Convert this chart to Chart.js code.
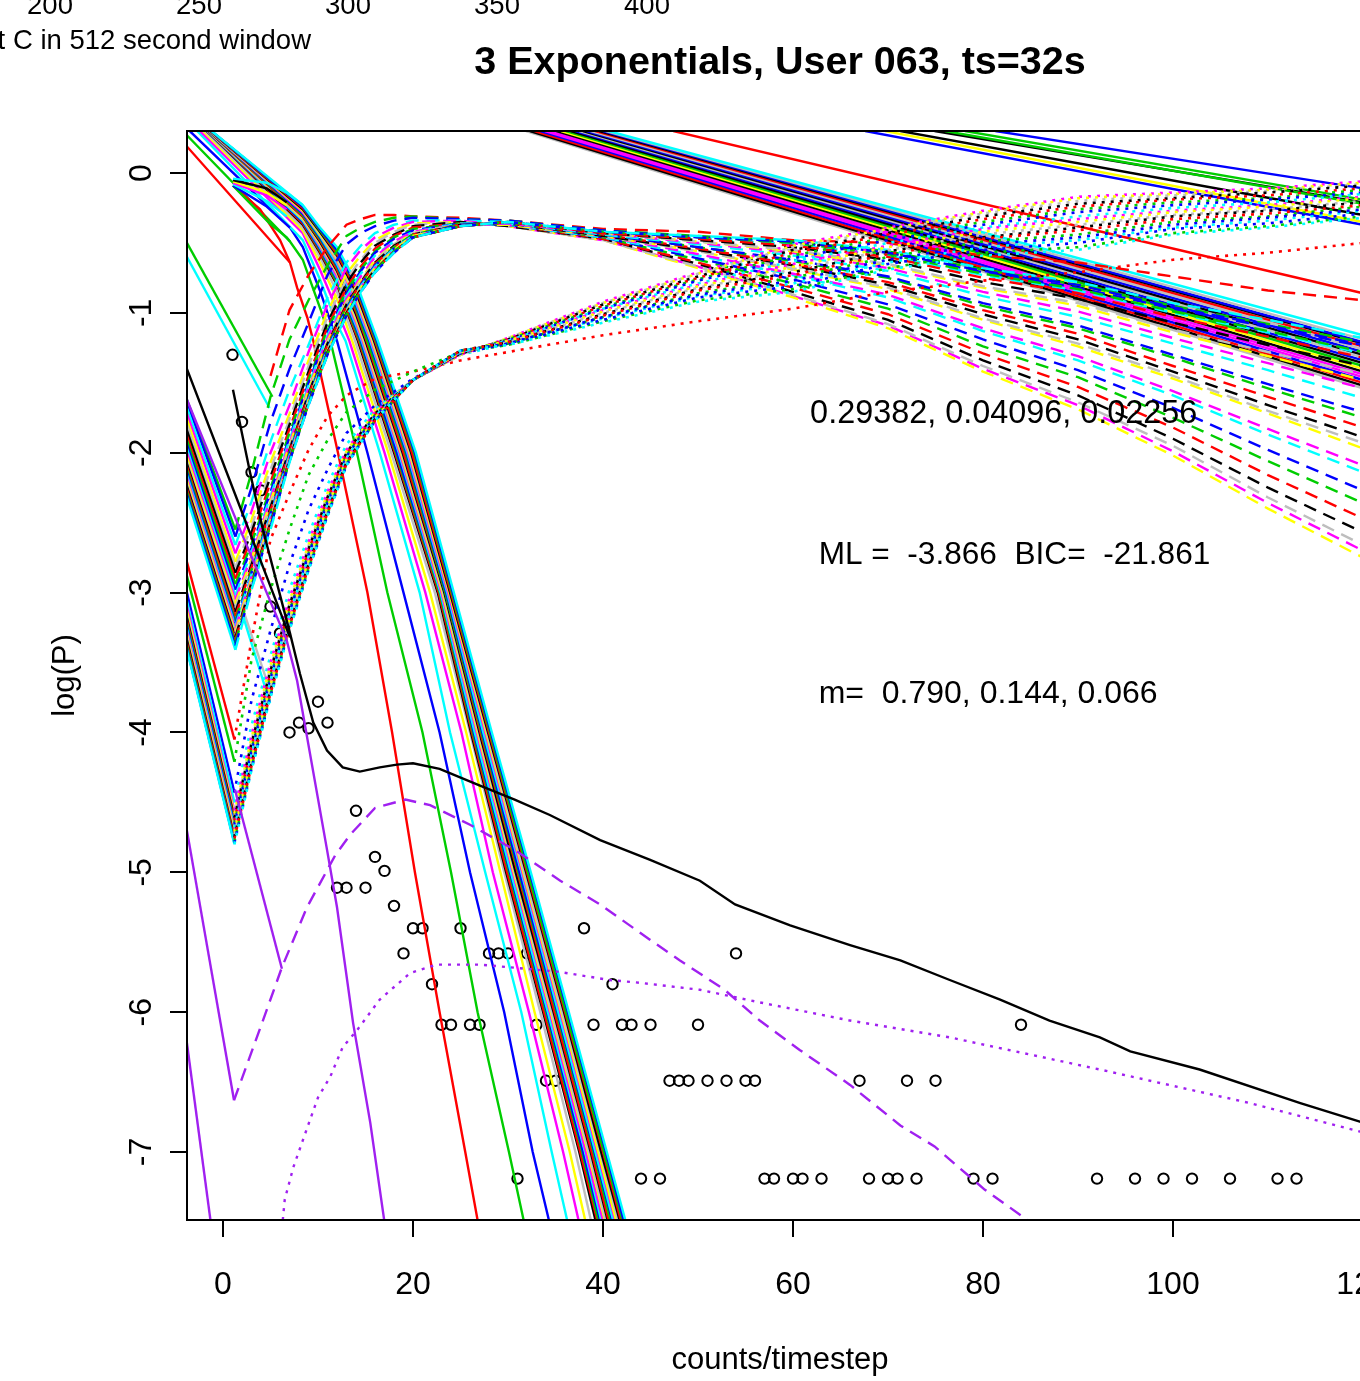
<!DOCTYPE html>
<html>
<head>
<meta charset="utf-8">
<title>3 Exponentials</title>
<script src="https://cdn.jsdelivr.net/npm/chart.js@4/dist/chart.umd.min.js"></script>
<style>
html, body { margin: 0; padding: 0; background: #fff; overflow: hidden; width: 1360px; height: 1381px; }
canvas { display: block; }
</style>
</head>
<body>
<canvas id="chart" width="1400" height="1381"></canvas>
<script>
// observed points
var obsX = [1,2,3,4,5,6,7,8,9,10,11,12,13,14,15,16,17,18,19,20,21,22,23,24,25,26,27,28,29,30,31,32,33,34,35,38,39,41,42,43,44,45,46,47,48,49,50,51,53,54,55,56,57,58,60,61,63,67,68,70,71,72,73,75,79,81,84,92,96,99,102,106,111,113];
var obsY = [-1.30,-1.78,-2.14,-2.27,-3.10,-3.29,-4.00,-3.93,-3.97,-3.78,-3.93,-5.11,-5.11,-4.56,-5.11,-4.89,-4.99,-5.24,-5.58,-5.40,-5.40,-5.80,-6.09,-6.09,-5.40,-6.09,-6.09,-5.58,-5.58,-5.58,-7.19,-5.58,-6.09,-6.49,-6.49,-5.40,-6.09,-5.80,-6.09,-6.09,-7.19,-6.09,-7.19,-6.49,-6.49,-6.49,-6.09,-6.49,-6.49,-5.58,-6.49,-6.49,-7.19,-7.19,-7.19,-7.19,-7.19,-6.49,-7.19,-7.19,-7.19,-6.49,-7.19,-6.49,-7.19,-7.19,-6.09,-7.19,-7.19,-7.19,-7.19,-7.19,-7.19,-7.19];

// best fit, black solid
var fitX = [1.05,2.84,4.2,7.05,8.1,9.5,10.95,12.6,14.4,16.5,18.3,20,22.8,27.05,30.7,34.4,39.7,44.9,50.2,53.9,59.7,66,71.3,76.5,81.8,87,92.3,95.5,102.8,113.4,120];
var fitY = [-1.55,-2.14,-2.55,-3.29,-3.58,-3.93,-4.13,-4.25,-4.28,-4.25,-4.23,-4.22,-4.26,-4.38,-4.48,-4.59,-4.77,-4.91,-5.06,-5.23,-5.38,-5.52,-5.63,-5.77,-5.91,-6.06,-6.18,-6.28,-6.41,-6.65,-6.79];
var fitLeftX = [-3.8,1.8,7.05];
var fitLeftY = [-1.4,-2.39,-3.32];

// purple components
var purpleMainX = [-3.8,1.8,6.7,7.8,10.9,12,13.7,15.5,17.1];
var purpleMainY = [-1.62,-2.55,-3.34,-3.63,-4.82,-5.25,-6.08,-6.79,-7.55];
var purpleSecondX = [-3.8,1.16];
var purpleSecondY = [-4.70,-6.63];
var purpleThirdX = [1.26,6.2];
var purpleThirdY = [-4.41,-5.69];
var purpleFourthX = [-3.8,-1.1];
var purpleFourthY = [-6.22,-7.6];
var purpleDashX = [1.16,4.2,6.2,8.84,11.8,13.4,16,19.2,21.8,26,30.7,35.5,39.7,44.9,48.1,52.8,56.5,60.7,66,71.3,74.9,80.2,86];
var purpleDashY = [-6.63,-6.06,-5.68,-5.25,-4.88,-4.73,-4.54,-4.48,-4.52,-4.66,-4.84,-5.06,-5.23,-5.48,-5.63,-5.84,-6.06,-6.27,-6.52,-6.81,-6.96,-7.27,-7.55];
var purpleDotX = [6.2,6.5,7.4,8.9,10,11.3,12.6,14.1,16.5,19.7,22.5,27.05,35.2,40.7,43.9,50.2,56.5,66,76.5,92.3,108.1,120];
var purpleDotY = [-7.55,-7.34,-7.11,-6.82,-6.61,-6.46,-6.25,-6.13,-5.91,-5.72,-5.66,-5.66,-5.71,-5.77,-5.79,-5.84,-5.93,-6.06,-6.18,-6.41,-6.65,-6.86];

// steep solid curves: top part per curve, then x read at fixed log(P) levels
var steepHeadX = [
    [-3.8,7.05,7.8,8.9],[-3.8,7.05,8.4,10.5],[-3.5,7.05,8.4,10.2,11],[-2.7,8.4,10.2,12],[-2.4,8.4,10.2,12],[-2.1,8.4,10.2,12],[-1.9,8.4,10.2,12],[-1.7,8.4,10.2,12],
    [-1.68,8.4,10.2,12,14],[-1.66,8.4,10.2,12,14],[-1.63,8.4,10.2,12,14],[-1.6,8.4,10.2,12,14],[-1.58,8.4,10.2,12,14],[-1.55,8.4,10.2,12,14],[-1.53,8.4,10.2,12,14],[-1.5,8.4,10.2,12,14],
    [-1.48,8.4,10.2,12,14],[-1.45,8.4,10.2,12,14],[-1.42,8.4,10.2,12,14],[-1.4,8.4,10.2,12,14],[-1.38,8.4,10.2,12,14],[-1.35,8.4,10.2,12,14],[-1.33,8.4,10.2,12,14],[-1.3,8.4,10.2,12,14],
    [-1.28,8.4,10.2,12,14],[-1.25,8.4,10.2,12,14],[-1.22,8.4,10.2,12,14],[-1.2,8.4,10.2,12,14]
];
var steepHeadY = [
    [0.19,-0.64,-0.82,-1.04],[0.27,-0.49,-0.62,-1.02],[0.3,-0.39,-0.53,-0.84,-1],[0.3,-0.48,-0.76,-1.08],[0.3,-0.43,-0.69,-0.98],[0.3,-0.41,-0.64,-0.9],[0.3,-0.39,-0.6,-0.85],[0.3,-0.37,-0.57,-0.8],
    [0.3,-0.36,-0.56,-0.79,-1.15],[0.3,-0.35,-0.55,-0.78,-1.13],[0.3,-0.35,-0.54,-0.76,-1.11],[0.3,-0.34,-0.53,-0.75,-1.09],[0.3,-0.33,-0.52,-0.74,-1.07],[0.3,-0.33,-0.51,-0.72,-1.05],[0.3,-0.32,-0.5,-0.71,-1.03],[0.3,-0.31,-0.49,-0.7,-1.01],
    [0.3,-0.31,-0.48,-0.69,-0.99],[0.3,-0.3,-0.47,-0.67,-0.97],[0.3,-0.29,-0.46,-0.66,-0.95],[0.3,-0.28,-0.45,-0.65,-0.93],[0.3,-0.28,-0.44,-0.63,-0.91],[0.3,-0.27,-0.44,-0.62,-0.89],[0.3,-0.26,-0.43,-0.61,-0.87],[0.3,-0.26,-0.42,-0.59,-0.85],
    [0.3,-0.25,-0.41,-0.58,-0.83],[0.3,-0.24,-0.41,-0.56,-0.81],[0.3,-0.24,-0.4,-0.55,-0.8],[0.3,-0.23,-0.39,-0.53,-0.78]
];
var steepLevels = [-1.2,-2,-3,-4,-5,-6,-7,-7.6];
var steepX = [
    [9.5,12.1,15.2,17.8,20.2,22.8,25.5,27.1],
    [11.3,14.1,17.3,21,24,26.8,30.1,32],
    [12,15.2,19,22.8,26,29.6,32.6,34.7],
    [12.9,16.5,20.7,23.9,27.6,31.4,34.6,36.6],
    [13.3,17,21.3,25.1,28.4,32.2,35.8,37.8],
    [13.6,17.4,21.8,25.6,29.2,32.8,36.5,38.5],
    [13.9,17.7,22.3,26,29.6,33.4,37.1,39.1],
    [14.2,18,22.6,26.1,29.8,33.7,37.5,39.6],
    [14.3,18.1,22.7,26.2,29.9,33.8,37.6,39.8],
    [14.4,18.2,22.8,26.3,30.1,34,37.8,39.9],
    [14.5,18.3,22.9,26.4,30.2,34.1,37.9,40.1],
    [14.6,18.5,22.9,26.5,30.3,34.2,38.1,40.2],
    [14.7,18.6,23,26.7,30.5,34.4,38.2,40.4],
    [14.8,18.7,23.1,26.8,30.6,34.5,38.4,40.6],
    [14.9,18.8,23.2,26.9,30.7,34.6,38.5,40.7],
    [15,18.9,23.3,27,30.8,34.8,38.7,40.9],
    [15.1,19,23.4,27.1,31,34.9,38.8,41],
    [15.2,19.2,23.4,27.2,31.1,35.1,39,41.2],
    [15.4,19.3,23.5,27.3,31.2,35.2,39.1,41.4],
    [15.5,19.4,23.6,27.4,31.4,35.3,39.2,41.5],
    [15.6,19.5,23.7,27.6,31.5,35.5,39.4,41.7],
    [15.7,19.6,23.8,27.7,31.6,35.6,39.5,41.8],
    [15.8,19.7,23.9,27.8,31.7,35.7,39.7,42],
    [15.9,19.8,23.9,27.9,31.9,35.9,39.8,42.2],
    [16,19.9,24,28,32,36,40,42.3],
    [16.1,20.1,24.1,28.1,32.1,36.1,40.1,42.5],
    [16.2,20.2,24.2,28.2,32.3,36.3,40.3,42.6],
    [16.3,20.3,24.3,28.3,32.4,36.4,40.4,42.8]
];

// short starts near log(P)=0
var startColors = [0,1,2,3,4,5,7,3];
var startX = [[1.05,3.9,6,7.05],[1.05,4.9,6.7,7.05],[1.05,4.6,7.05],[1.05,4.6,6.7],[1.05,4.6,6.7],[1.05,4.6,6.7],[1.05,4.6,6.7],[1.05,4.6,6.7,8.4]];
var startY = [[-0.09,-0.26,-0.48,-0.64],[-0.09,-0.36,-0.46,-0.49],[-0.09,-0.24,-0.39],[-0.08,-0.2,-0.31],[-0.07,-0.16,-0.26],[-0.06,-0.14,-0.23],[-0.05,-0.11,-0.21],[-0.04,-0.07,-0.14,-0.23]];

// long straight solids, top edge to right edge
var longTopX = [31.9,32.3,32.8,33.4,33.9,34.4,35.1,35.6,36.1,36.6,37.1,37.5,37.9,38.3,38.7,39.2,39.6,40,40.3,40.6];
var longEndY = [-1.54,-1.52,-1.5,-1.48,-1.46,-1.44,-1.42,-1.4,-1.38,-1.36,-1.34,-1.32,-1.3,-1.28,-1.26,-1.24,-1.22,-1.21,-1.19,-1.16];
var longColors = [6,7,0,2,4,4,7,5,1,7,2,6,7,2,6,0,7,2,6,3];
var upperTopX = [47.4,67.6,69.7,71.3,74.9,76,78.1,81.3];
var upperEndY = [-0.86,-0.37,-0.35,-0.3,-0.21,-0.22,-0.19,-0.11];
var upperColors = [0,2,5,7,7,1,1,2];

// dashed curves, one row per curve on a shared x grid
var dashX = [1.3,3,5,7,9,11,13,14.5,16,18,20,25,30,40,50,60,70,80,90,100,110,120];
var dashY = [
    [null,null,-1.45,-0.98,-0.73,-0.53,-0.37,-0.33,-0.3,-0.3,-0.31,-0.32,-0.34,-0.4,-0.42,-0.48,-0.5,-0.59,-0.64,-0.74,-0.84,-0.91],
    [-2.55,-2.14,-1.6,-1.19,-0.91,-0.66,-0.45,-0.39,-0.35,-0.32,-0.31,-0.33,-0.34,-0.41,-0.45,-0.49,-0.56,-0.69,-0.8,-0.95,-1.08,-1.21],
    [-2.6,-2.25,-1.78,-1.4,-1.07,-0.73,-0.51,-0.43,-0.38,-0.34,-0.32,-0.33,-0.34,-0.41,-0.46,-0.5,-0.57,-0.71,-0.82,-0.97,-1.1,-1.24],
    [-2.66,-2.35,-1.92,-1.55,-1.23,-0.89,-0.64,-0.52,-0.43,-0.37,-0.34,-0.34,-0.35,-0.42,-0.47,-0.51,-0.59,-0.73,-0.84,-1,-1.14,-1.29],
    [-2.72,-2.42,-2,-1.66,-1.28,-0.94,-0.68,-0.55,-0.46,-0.39,-0.35,-0.34,-0.38,-0.48,-0.67,-0.88,-1.09,-1.4,-1.66,-1.99,-2.36,-2.7],
    [-2.78,-2.48,-2.07,-1.72,-1.34,-0.99,-0.72,-0.59,-0.48,-0.41,-0.36,-0.35,-0.38,-0.48,-0.68,-0.89,-1.11,-1.42,-1.69,-2.02,-2.4,-2.75],
    [-2.82,-2.53,-2.12,-1.76,-1.38,-1.03,-0.76,-0.62,-0.5,-0.42,-0.37,-0.35,-0.38,-0.48,-0.67,-0.87,-1.08,-1.38,-1.64,-1.95,-2.32,-2.66],
    [-2.86,-2.57,-2.17,-1.8,-1.42,-1.07,-0.79,-0.64,-0.52,-0.44,-0.38,-0.35,-0.38,-0.47,-0.65,-0.85,-1.05,-1.34,-1.59,-1.9,-2.25,-2.57],
    [-2.9,-2.61,-2.21,-1.83,-1.45,-1.1,-0.82,-0.67,-0.54,-0.45,-0.39,-0.36,-0.37,-0.47,-0.64,-0.82,-1.01,-1.29,-1.53,-1.82,-2.16,-2.47],
    [-2.94,-2.65,-2.25,-1.86,-1.48,-1.12,-0.84,-0.69,-0.56,-0.46,-0.4,-0.36,-0.37,-0.46,-0.62,-0.79,-0.97,-1.24,-1.46,-1.75,-2.06,-2.36],
    [-2.98,-2.68,-2.28,-1.89,-1.5,-1.14,-0.86,-0.7,-0.57,-0.47,-0.41,-0.36,-0.37,-0.46,-0.61,-0.76,-0.94,-1.19,-1.41,-1.68,-1.98,-2.27],
    [-3.02,-2.71,-2.31,-1.91,-1.52,-1.16,-0.88,-0.72,-0.59,-0.49,-0.42,-0.36,-0.37,-0.46,-0.59,-0.73,-0.89,-1.13,-1.34,-1.59,-1.87,-2.14],
    [-3.05,-2.74,-2.33,-1.93,-1.54,-1.18,-0.9,-0.74,-0.6,-0.49,-0.42,-0.37,-0.37,-0.45,-0.58,-0.72,-0.87,-1.11,-1.31,-1.56,-1.83,-2.09],
    [-3.08,-2.76,-2.35,-1.95,-1.55,-1.2,-0.92,-0.76,-0.62,-0.51,-0.43,-0.37,-0.37,-0.45,-0.56,-0.69,-0.83,-1.05,-1.24,-1.47,-1.72,-1.97],
    [-3.11,-2.78,-2.37,-1.96,-1.57,-1.21,-0.93,-0.77,-0.63,-0.51,-0.43,-0.37,-0.36,-0.45,-0.56,-0.68,-0.82,-1.04,-1.22,-1.45,-1.7,-1.93],
    [-3.14,-2.8,-2.39,-1.98,-1.58,-1.22,-0.94,-0.78,-0.64,-0.52,-0.44,-0.37,-0.36,-0.45,-0.55,-0.66,-0.8,-1.01,-1.19,-1.42,-1.66,-1.89],
    [-3.17,-2.82,-2.41,-1.99,-1.59,-1.23,-0.95,-0.79,-0.65,-0.53,-0.44,-0.37,-0.36,-0.44,-0.54,-0.65,-0.78,-0.98,-1.15,-1.38,-1.6,-1.82],
    [-3.2,-2.84,-2.43,-2,-1.6,-1.24,-0.96,-0.8,-0.66,-0.53,-0.44,-0.37,-0.36,-0.44,-0.53,-0.63,-0.75,-0.95,-1.11,-1.32,-1.54,-1.75],
    [-3.22,-2.86,-2.44,-2.01,-1.61,-1.25,-0.97,-0.8,-0.66,-0.54,-0.45,-0.37,-0.36,-0.44,-0.53,-0.62,-0.74,-0.93,-1.09,-1.3,-1.51,-1.71],
    [-3.24,-2.87,-2.45,-2.02,-1.62,-1.26,-0.98,-0.81,-0.67,-0.54,-0.45,-0.38,-0.36,-0.44,-0.51,-0.59,-0.7,-0.88,-1.03,-1.22,-1.41,-1.61],
    [-3.26,-2.89,-2.47,-2.03,-1.63,-1.27,-0.99,-0.82,-0.68,-0.55,-0.45,-0.38,-0.36,-0.43,-0.5,-0.57,-0.68,-0.85,-0.99,-1.18,-1.36,-1.54],
    [-3.28,-2.9,-2.48,-2.04,-1.63,-1.27,-0.99,-0.82,-0.68,-0.55,-0.45,-0.38,-0.35,-0.43,-0.49,-0.56,-0.66,-0.82,-0.95,-1.14,-1.31,-1.48],
    [-3.3,-2.92,-2.49,-2.04,-1.64,-1.28,-1,-0.83,-0.69,-0.56,-0.46,-0.38,-0.35,-0.43,-0.49,-0.55,-0.65,-0.81,-0.93,-1.12,-1.28,-1.44],
    [-3.32,-2.93,-2.5,-2.05,-1.64,-1.28,-1,-0.83,-0.69,-0.56,-0.46,-0.38,-0.35,-0.43,-0.48,-0.53,-0.62,-0.78,-0.9,-1.07,-1.23,-1.38],
    [-3.34,-2.94,-2.51,-2.05,-1.65,-1.29,-1.01,-0.84,-0.7,-0.56,-0.46,-0.38,-0.35,-0.43,-0.47,-0.52,-0.6,-0.75,-0.86,-1.03,-1.17,-1.32],
    [-3.36,-2.95,-2.52,-2.06,-1.65,-1.29,-1.01,-0.84,-0.7,-0.56,-0.46,-0.38,-0.35,-0.42,-0.46,-0.5,-0.58,-0.72,-0.83,-0.99,-1.13,-1.28],
    [-3.38,-2.97,-2.53,-2.06,-1.66,-1.3,-1.02,-0.85,-0.71,-0.57,-0.46,-0.38,-0.35,-0.42,-0.46,-0.49,-0.57,-0.7,-0.8,-0.96,-1.09,-1.23],
    [-3.41,-2.98,-2.55,-2.07,-1.66,-1.3,-1.02,-0.85,-0.71,-0.57,-0.46,-0.38,-0.35,-0.42,-0.45,-0.48,-0.55,-0.68,-0.78,-0.93,-1.05,-1.18]
];
// where the solid leading into each dashed curve crosses the left edge (curve 2 on)
var dashLeftY = [-1.62,-1.64,-1.68,-1.72,-1.76,-1.8,-1.84,-1.88,-1.91,-1.94,-1.97,-2,-2.03,-2.06,-2.08,-2.1,-2.12,-2.14,-2.16,-2.18,-2.2,-2.22,-2.24,-2.26,-2.28,-2.3,-2.32];

// dotted curves
var dotX = [1.2,3,5,7,9,11,13,16,20,25,30,40,50,60,70,80,90,100,110,120];
var dotY = [
    [-4.05,-3.34,-2.62,-2.29,-1.98,-1.74,-1.59,-1.47,-1.42,-1.34,-1.28,-1.16,-1.06,-0.97,-0.85,-0.77,-0.71,-0.62,-0.57,-0.5],
    [-4.21,-3.48,-2.98,-2.55,-2.16,-1.91,-1.71,-1.55,-1.42,-1.28,-1.23,-1.06,-0.91,-0.83,-0.68,-0.57,-0.53,-0.43,-0.38,-0.31],
    [-4.43,-3.77,-3.27,-2.8,-2.41,-2.12,-1.86,-1.66,-1.47,-1.29,-1.22,-1.05,-0.89,-0.81,-0.65,-0.55,-0.5,-0.4,-0.36,-0.29],
    [-4.5,-3.95,-3.45,-2.98,-2.59,-2.23,-1.94,-1.69,-1.48,-1.3,-1.22,-1.04,-0.88,-0.79,-0.64,-0.53,-0.48,-0.39,-0.34,-0.27],
    [-4.56,-4.02,-3.5,-3.04,-2.64,-2.28,-1.98,-1.71,-1.48,-1.3,-1.18,-0.92,-0.71,-0.51,-0.39,-0.27,-0.17,-0.14,-0.11,-0.06],
    [-4.58,-4.04,-3.52,-3.06,-2.66,-2.29,-1.99,-1.71,-1.48,-1.3,-1.18,-0.93,-0.72,-0.52,-0.4,-0.28,-0.18,-0.15,-0.12,-0.07],
    [-4.6,-4.06,-3.54,-3.08,-2.67,-2.31,-2,-1.72,-1.48,-1.3,-1.18,-0.93,-0.72,-0.53,-0.41,-0.29,-0.2,-0.16,-0.13,-0.08],
    [-4.61,-4.08,-3.56,-3.09,-2.69,-2.32,-2,-1.72,-1.48,-1.29,-1.19,-0.94,-0.74,-0.55,-0.43,-0.31,-0.22,-0.18,-0.14,-0.09],
    [-4.63,-4.1,-3.58,-3.11,-2.7,-2.33,-2.01,-1.73,-1.48,-1.29,-1.19,-0.95,-0.75,-0.57,-0.44,-0.33,-0.24,-0.19,-0.16,-0.11],
    [-4.65,-4.12,-3.6,-3.13,-2.72,-2.34,-2.02,-1.73,-1.48,-1.29,-1.19,-0.96,-0.76,-0.59,-0.46,-0.35,-0.26,-0.21,-0.18,-0.12],
    [-4.66,-4.14,-3.62,-3.14,-2.73,-2.36,-2.03,-1.74,-1.48,-1.29,-1.2,-0.97,-0.77,-0.61,-0.48,-0.37,-0.28,-0.23,-0.19,-0.14],
    [-4.68,-4.16,-3.63,-3.16,-2.75,-2.37,-2.04,-1.74,-1.48,-1.28,-1.2,-0.97,-0.79,-0.63,-0.5,-0.39,-0.31,-0.25,-0.21,-0.15],
    [-4.7,-4.18,-3.65,-3.18,-2.76,-2.38,-2.05,-1.75,-1.48,-1.28,-1.2,-0.98,-0.8,-0.65,-0.52,-0.4,-0.33,-0.27,-0.23,-0.17],
    [-4.71,-4.19,-3.66,-3.19,-2.78,-2.39,-2.05,-1.75,-1.48,-1.28,-1.2,-0.99,-0.81,-0.67,-0.53,-0.42,-0.35,-0.28,-0.24,-0.18],
    [-4.73,-4.21,-3.68,-3.21,-2.79,-2.41,-2.06,-1.76,-1.48,-1.28,-1.21,-1,-0.82,-0.69,-0.55,-0.44,-0.37,-0.3,-0.26,-0.2],
    [-4.75,-4.22,-3.7,-3.23,-2.8,-2.42,-2.07,-1.76,-1.48,-1.27,-1.21,-1.01,-0.83,-0.71,-0.56,-0.46,-0.39,-0.31,-0.27,-0.21],
    [-4.76,-4.24,-3.72,-3.24,-2.82,-2.43,-2.08,-1.77,-1.48,-1.27,-1.21,-1.02,-0.84,-0.73,-0.58,-0.47,-0.41,-0.33,-0.29,-0.23],
    [-4.78,-4.25,-3.73,-3.25,-2.83,-2.44,-2.08,-1.77,-1.48,-1.27,-1.22,-1.03,-0.86,-0.75,-0.6,-0.49,-0.44,-0.35,-0.31,-0.24],
    [-4.79,-4.26,-3.74,-3.26,-2.84,-2.45,-2.09,-1.77,-1.48,-1.27,-1.22,-1.03,-0.87,-0.77,-0.62,-0.51,-0.46,-0.37,-0.32,-0.26],
    [-4.8,-4.27,-3.75,-3.27,-2.84,-2.45,-2.09,-1.77,-1.48,-1.27,-1.23,-1.07,-0.92,-0.85,-0.69,-0.59,-0.55,-0.44,-0.39,-0.32]
];
var dotLeftY = [-2.78,-2.88,-3,-3.06,-3.1,-3.13,-3.16,-3.18,-3.2,-3.22,-3.24,-3.26,-3.28,-3.3,-3.32,-3.34,-3.36,-3.38,-3.4,-3.41];

// odd short solids
var extraColors = [1,3,6,3];
var extraX = [[-3.8,5.2],[-3.8,4.9],[2.1,4.7],[1.8,4.95]];
var extraY = [[-0.5,-1.6],[-0.6,-1.68],[-3.12,-3.65],[-3.1,-3.79]];

// axis ticks
var xTicks = [0,20,40,60,80,100,120];
var yTicks = [-7,-6,-5,-4,-3,-2,-1,0];

// text
var titleText = "3 Exponentials, User 063, ts=32s";
var xTitle = "counts/timestep";
var yTitle = "log(P)";
var noteTexts = ["0.29382, 0.04096, 0.02256", "ML =  -3.866  BIC=  -21.861", "m=  0.790, 0.144, 0.066"];
var noteX = [61.8,62.7,62.7];
var noteY = [-1.725,-2.735,-3.725];
var noteSizes = [32.4,31.6,32];
var topLabels = ["200","250","300","350","400"];
var topLabelPx = [50,199,348,497,647];
var topCaption = "t C in 512 second window";

var palette = ["#FF0000","#00CD00","#0000FF","#00FFFF","#FF00FF","#FFFF00","#BEBEBE","#000000"];
var purple = "#A020F0";

function zip(xs, ys) {
    return xs.map(function (x, i) { return { x: x, y: ys[i] }; });
}

function line(points, color, dash, width) {
    return {
        data: points,
        showLine: true,
        borderColor: color,
        backgroundColor: color,
        borderWidth: width || 2.4,
        borderDash: dash || [],
        pointRadius: 0,
        tension: 0
    };
}

var DASHED = [13, 8], DOTTED = [3, 6];
var drawn = [];

drawn.push({
    data: zip(obsX, obsY), showLine: false, pointRadius: 5.2, pointBorderWidth: 2,
    pointBorderColor: "#000", pointBackgroundColor: "rgba(0,0,0,0)"
});

longTopX.forEach(function (x, i) {
    drawn.push(line(zip([x, 120], [0.3, longEndY[i]]), palette[longColors[i]]));
});
upperTopX.forEach(function (x, i) {
    drawn.push(line(zip([x, 120], [0.3, upperEndY[i]]), palette[upperColors[i]]));
});

//solids leading into the dashed and dotted curves
dashLeftY.forEach(function (y, i) {
    drawn.push(line(zip([-3.8, dashX[0]], [y, dashY[i + 1][0]]), palette[(i + 1) % 8]));
});
dotLeftY.forEach(function (y, i) {
    drawn.push(line(zip([-3.8, dotX[0]], [y, dotY[i][0]]), palette[i % 8]));
});
extraX.forEach(function (xs, i) {
    drawn.push(line(zip(xs, extraY[i]), palette[extraColors[i]]));
});
steepX.forEach(function (xs, i) {
    var pts = zip(steepHeadX[i], steepHeadY[i]).concat(zip(xs, steepLevels));
    drawn.push(line(pts, palette[i % 8]));
});
startX.forEach(function (xs, i) {
    drawn.push(line(zip(xs, startY[i]), palette[startColors[i]]));
});
dashY.forEach(function (ys, i) {
    drawn.push(line(zip(dashX, ys), palette[i % 8], DASHED));
});
dotY.forEach(function (ys, i) {
    drawn.push(line(zip(dotX, ys), palette[i % 8], DOTTED, 2.6));
});

drawn.push(line(zip(purpleFourthX, purpleFourthY), purple));
drawn.push(line(zip(purpleSecondX, purpleSecondY), purple));
drawn.push(line(zip(purpleThirdX, purpleThirdY), purple));
drawn.push(line(zip(purpleDashX, purpleDashY), purple, DASHED));
drawn.push(line(zip(purpleDotX, purpleDotY), purple, DOTTED));
drawn.push(line(zip(purpleMainX, purpleMainY), purple));
drawn.push(line(zip(fitLeftX, fitLeftY), "#000"));
drawn.push(line(zip(fitX, fitY), "#000"));

// box and the free text the axes do not cover
var extras = {
    id: "extras",
    afterDraw: function (chart) {
        var c = chart.ctx, a = chart.chartArea;
        c.save();
        c.strokeStyle = "#000";
        c.lineWidth = 2;
        c.strokeRect(a.left, a.top, a.right - a.left, a.bottom - a.top);
        c.fillStyle = "#000";
        c.textBaseline = "middle";
        c.textAlign = "left";
        noteTexts.forEach(function (t, i) {
            c.font = noteSizes[i] + "px 'Liberation Sans'";
            c.fillText(t, chart.scales.x.getPixelForValue(noteX[i]), chart.scales.y.getPixelForValue(noteY[i]));
        });
        c.font = "27.5px 'Liberation Sans'";
        c.textAlign = "center";
        topLabels.forEach(function (t, i) {
            c.fillText(t, topLabelPx[i], 6);
        });
        c.textAlign = "right";
        c.fillText(topCaption, 311, 41);
        c.restore();
    }
};

Chart.defaults.font.family = "'Liberation Sans'";
Chart.defaults.color = "#000";

new Chart(document.getElementById("chart"), {
    type: "scatter",
    data: { datasets: drawn.reverse() },
    plugins: [extras],
    options: {
        responsive: false,
        animation: false,
        devicePixelRatio: 1,
        events: [],
        layout: { padding: { left: 0, right: 27, top: 0, bottom: 0 } },
        plugins: {
            legend: { display: false },
            tooltip: { enabled: false },
            title: {
                display: true,
                text: titleText,
                fullSize: false,
                color: "#000",
                font: { size: 39.5, weight: "bold", lineHeight: 1.2 },
                padding: { top: 39.5, bottom: 44.1 }
            }
        },
        scales: {
            x: {
                type: "linear",
                min: -3.79,
                max: 121.05,
                afterBuildTicks: function (s) { s.ticks = xTicks.map(function (v) { return { value: v }; }); },
                //tick label overhang must not pull the plot edge in
                afterFit: function (s) { s.height = 161; s.paddingLeft = 0; s.paddingRight = 0; },
                border: { color: "#000", width: 2 },
                grid: { drawOnChartArea: false, color: "#000", lineWidth: 2, tickLength: 17, tickColor: "#000" },
                ticks: { font: { size: 32 }, padding: 29, maxRotation: 0, autoSkip: false, color: "#000" },
                title: { display: true, text: xTitle, font: { size: 31 }, padding: { top: 20, bottom: 2 }, color: "#000" }
            },
            y: {
                type: "linear",
                min: -7.486,
                max: 0.3003,
                afterBuildTicks: function (s) { s.ticks = yTicks.map(function (v) { return { value: v }; }); },
                afterFit: function (s) { s.width = 187; s.paddingTop = 0; s.paddingBottom = 0; },
                border: { color: "#000", width: 2 },
                grid: { drawOnChartArea: false, color: "#000", lineWidth: 2, tickLength: 17, tickColor: "#000" },
                ticks: { font: { size: 32 }, padding: 14, minRotation: 90, maxRotation: 90, crossAlign: "center", autoSkip: false, color: "#000" },
                title: { display: true, text: yTitle, font: { size: 31 }, padding: { top: 47, bottom: 0 }, color: "#000" }
            }
        }
    }
});
</script>
</body>
</html>
